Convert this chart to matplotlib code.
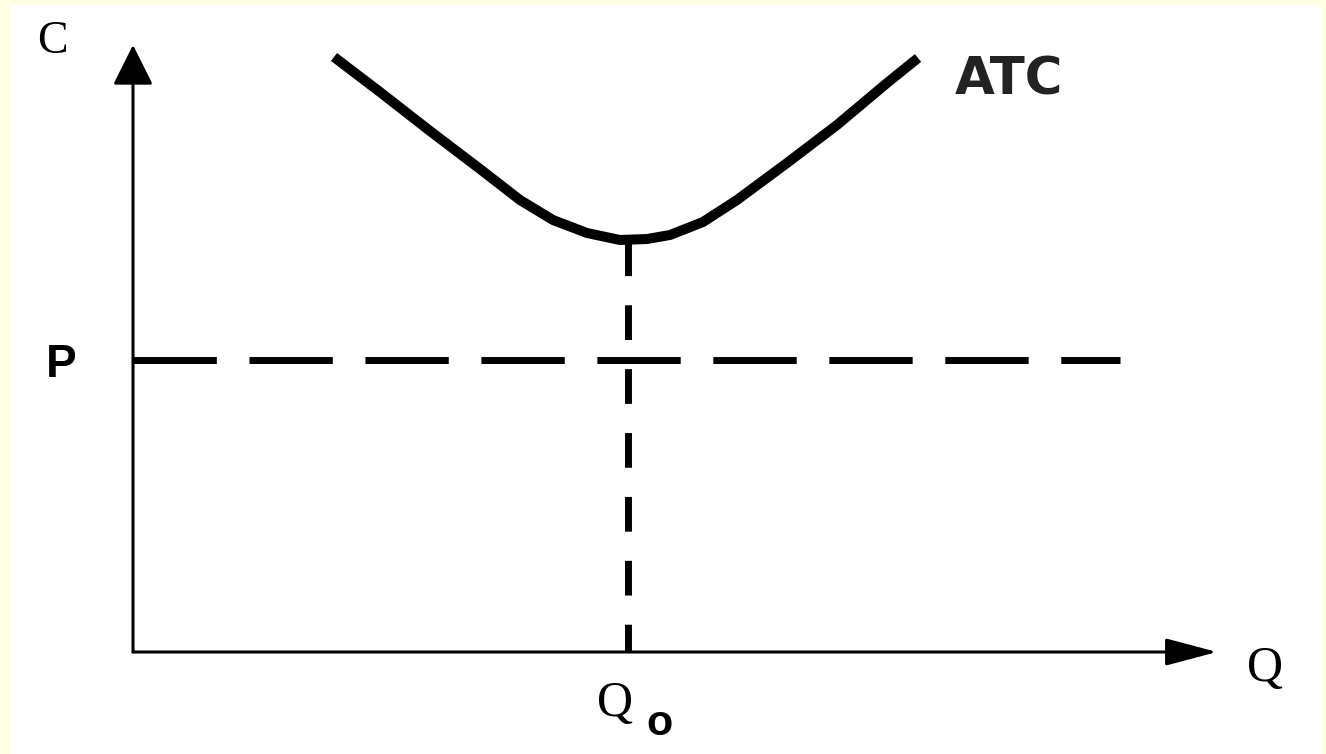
import matplotlib
matplotlib.use("Agg")
import matplotlib.pyplot as plt
from matplotlib.patches import Rectangle

# ATC curve (quantity, cost)
atc_q = [2.01, 2.47, 2.97, 3.47, 3.87, 4.20, 4.54, 4.87, 5.14, 5.37,
         5.70, 6.04, 6.54, 7.04, 7.54, 7.85]
atc_c = [5.95, 5.60, 5.21, 4.83, 4.52, 4.32, 4.19, 4.12, 4.13, 4.17,
         4.30, 4.52, 4.89, 5.27, 5.69, 5.94]

q0 = 4.95          # output at minimum ATC
atc_min = 4.12     # minimum ATC
price = 2.92       # market price
price_end = 9.87   # where the price line stops

q_axis_end = 10.84
c_axis_end = 6.07

CREAM = "#FEFEE2"

fig = plt.figure(figsize=(13.26, 7.54), dpi=100, facecolor=CREAM)
ax = fig.add_axes([0, 0, 1, 1])
ax.set_facecolor("none")
ax.set_xlim(-1.33, 11.93)
ax.set_ylim(-1.02, 6.52)
ax.axis("off")

# white panel inside the cream frame
ax.add_patch(Rectangle((11 / 1326, 0), 1310 / 1326, 749 / 754,
                       transform=fig.transFigure, facecolor="white",
                       edgecolor="none", zorder=-10, clip_on=False))

# axes with arrow heads
ax.annotate("", xy=(0, c_axis_end), xytext=(0, 0),
            arrowprops=dict(arrowstyle="-|>,head_length=2.5,head_width=1.25",
                            lw=2.2, color="black", shrinkA=0, shrinkB=0))
ax.annotate("", xy=(q_axis_end, 0), xytext=(0, 0),
            arrowprops=dict(arrowstyle="-|>,head_length=3.2,head_width=0.85",
                            lw=2.2, color="black", shrinkA=0, shrinkB=0))

# price line and Q0 line
ax.plot([0, price_end], [price, price], color="black", lw=5,
        linestyle=(0, (12, 4.7)))
ax.plot([q0, q0], [0, atc_min], color="black", lw=5,
        linestyle=(1, (5.0, 4.2)))

# ATC curve
ax.plot(atc_q, atc_c, color="black", lw=7.2, solid_joinstyle="round",
        solid_capstyle="butt")

serif = ["Liberation Serif", "DejaVu Serif"]
sans = ["Liberation Sans", "DejaVu Sans"]
ax.text(-0.81, 5.99, "C", family=serif, fontsize=33, ha="center", va="baseline")
ax.text(-0.72, 2.75, "P", family=sans, fontsize=33, fontweight="bold",
        ha="center", va="baseline")
ax.text(11.32, -0.29, "Q", family=serif, fontsize=36, ha="center", va="baseline")
ax.text(4.82, -0.64, "Q", family=serif, fontsize=36, ha="center", va="baseline")
ax.text(5.27, -0.83, "o", family=sans, fontsize=31, fontweight="bold",
        ha="center", va="baseline")
ax.text(8.76, 5.57, "ATC", family=["DejaVu Sans"], fontsize=37,
        fontweight="bold", color="#222222", ha="center", va="baseline")

fig.savefig("out.png", dpi=100, facecolor=CREAM)
